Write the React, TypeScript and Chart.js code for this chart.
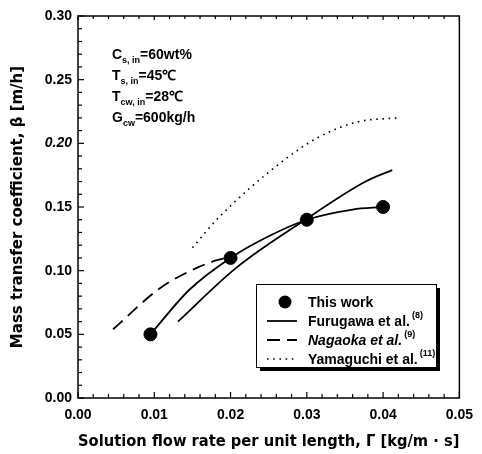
import React, { useEffect, useRef } from "react";
import { Chart, registerables } from "chart.js";

Chart.register(...registerables);

// ---- data ----
const thisWorkX = [0.0095, 0.02, 0.03, 0.04];
const thisWorkY = [0.05, 0.11, 0.14, 0.15];
const fitX = [0.0095, 0.0146, 0.02, 0.025, 0.03, 0.036, 0.04];
const fitY = [0.05, 0.085, 0.11, 0.127, 0.14, 0.148, 0.15];
const furugawaX = [0.0131, 0.0207, 0.0298, 0.0377, 0.0412];
const furugawaY = [0.06, 0.102, 0.14, 0.17, 0.179];
const nagaokaX = [0.0046, 0.0107, 0.0155, 0.0181, 0.0195];
const nagaokaY = [0.054, 0.086, 0.102, 0.108, 0.11];
const yamaguchiX = [0.015, 0.0185, 0.0264, 0.0316, 0.0368, 0.0418];
const yamaguchiY = [0.118, 0.142, 0.184, 0.205, 0.217, 0.22];

const legendLabels = ["This work", "Furugawa et al.", "Nagaoka et al.", "Yamaguchi et al."];
const legendRefs = ["", "(8)", "(9)", "(11)"];
const legendItalic = [false, false, true, false];

const xTitle = "Solution flow rate per unit length, Γ [kg/m · s]";
const yTitle = "Mass transfer coefficient, β [m/h]";

const xMin = 0, xMax = 0.05, xMajor = 0.01, xMinor = 0.002;
const yMin = 0, yMax = 0.3, yMajor = 0.05, yMinor = 0.01;

const FONT = "'Liberation Sans', Arial, sans-serif";
const TFONT = "'DejaVu Sans', 'Liberation Sans', sans-serif";

const zip = (xs: number[], ys: number[]) => xs.map((x, i) => ({ x, y: ys[i] }));

type Part = { t: string; sub?: boolean; sup?: boolean; it?: boolean };
function drawRich(ctx: CanvasRenderingContext2D, parts: Part[], x: number, y: number, size: number) {
  let cx = x;
  for (const p of parts) {
    const s = p.sub || p.sup ? Math.round(size * 0.62) : size;
    ctx.font = `${p.it ? "italic " : ""}bold ${s}px ${FONT}`;
    const dy = p.sub ? size * 0.3 : p.sup ? -size * 0.45 : 0;
    if (p.sup) cx += 2;
    ctx.fillText(p.t, cx, y + dy);
    cx += ctx.measureText(p.t).width;
  }
}

const framePlugin = {
  id: "frame",
  afterDraw(chart: any) {
    const { ctx, chartArea: a, scales } = chart;
    const xs = scales.x, ys = scales.y;
    ctx.save();
    ctx.strokeStyle = "#000";
    ctx.lineWidth = 1.5;
    ctx.strokeRect(a.left, a.top, a.right - a.left, a.bottom - a.top);
    ctx.lineWidth = 1.2;
    const nx = Math.round((xMax - xMin) / xMinor);
    for (let i = 0; i <= nx; i++) {
      const v = xMin + i * xMinor;
      const px = xs.getPixelForValue(v);
      const major = i % Math.round(xMajor / xMinor) === 0;
      const len = major ? 6 : 4;
      ctx.beginPath();
      ctx.moveTo(px, a.bottom);
      ctx.lineTo(px, a.bottom - len);
      ctx.moveTo(px, a.top);
      ctx.lineTo(px, a.top + (major ? 4 : 3));
      ctx.stroke();
    }
    const ny = Math.round((yMax - yMin) / yMinor);
    for (let i = 0; i <= ny; i++) {
      const v = yMin + i * yMinor;
      const py = ys.getPixelForValue(v);
      const major = i % Math.round(yMajor / yMinor) === 0;
      const len = major ? 6 : 4;
      ctx.beginPath();
      ctx.moveTo(a.left, py);
      ctx.lineTo(a.left + len, py);
      ctx.stroke();
    }

    // annotation text
    ctx.fillStyle = "#000";
    ctx.textBaseline = "alphabetic";
    ctx.textAlign = "left";
    const ax = 112, ay = 59, lh = 21;
    drawRich(ctx, [{ t: "C" }, { t: "s, in", sub: true }, { t: "=60wt%" }], ax, ay, 14);
    drawRich(ctx, [{ t: "T" }, { t: "s, in", sub: true }, { t: "=45℃" }], ax, ay + lh, 14);
    drawRich(ctx, [{ t: "T" }, { t: "cw, in", sub: true }, { t: "=28℃" }], ax, ay + 2 * lh, 14);
    drawRich(ctx, [{ t: "G" }, { t: "cw", sub: true }, { t: "=600kg/h" }], ax, ay + 3 * lh, 14);

    // legend box with shadow
    const lx = 256, ly = 284, lw = 180, lhh = 83;
    ctx.fillStyle = "#000";
    ctx.fillRect(lx + 4, ly + 4, lw, lhh);
    ctx.fillStyle = "#fff";
    ctx.fillRect(lx, ly, lw, lhh);
    ctx.strokeStyle = "#000";
    ctx.lineWidth = 1;
    ctx.strokeRect(lx + 0.5, ly + 0.5, lw, lhh);
    const rows = [302, 321, 340, 359];
    const ds = chart.data.datasets;
    const legendDs = [ds[0], ds[2], ds[3], ds[4]];
    rows.forEach((ry, i) => {
      const d = legendDs[i];
      ctx.save();
      if (i === 0) {
        ctx.fillStyle = "#000";
        ctx.beginPath();
        ctx.arc(285, ry, 6.5, 0, Math.PI * 2);
        ctx.fill();
      } else {
        ctx.strokeStyle = "#000";
        ctx.lineWidth = d.borderWidth;
        ctx.setLineDash(d.borderDash || []);
        ctx.beginPath();
        ctx.moveTo(267, ry);
        ctx.lineTo(297, ry);
        ctx.stroke();
      }
      ctx.restore();
      ctx.fillStyle = "#000";
      ctx.textBaseline = "middle";
      drawRich(ctx, [{ t: legendLabels[i], it: legendItalic[i] }, { t: legendRefs[i], sup: true }], 308, ry + 1, 14);
    });
    ctx.restore();
  },
};

export default function App() {
  const ref = useRef<HTMLCanvasElement>(null);
  useEffect(() => {
    if (!ref.current) return;
    const lineBase = { type: "line" as const, showLine: true, pointRadius: 0, borderColor: "#000", fill: false, cubicInterpolationMode: "monotone" as const };
    const tickFont = (c: any) => ({
      family: FONT,
      size: 14,
      weight: "bold" as const,
      style: (c.tick && Math.abs(c.tick.value - 0.2) < 1e-9 && c.scale && c.scale.id === "y" ? "italic" : "normal") as any,
    });
    const chart = new Chart(ref.current, {
      type: "scatter",
      data: {
        datasets: [
          { label: legendLabels[0], data: zip(thisWorkX, thisWorkY), pointRadius: 6.5, backgroundColor: "#000", borderColor: "#000", showLine: false, order: 0 } as any,
          { ...lineBase, label: "fit", data: zip(fitX, fitY), borderWidth: 1.8, order: 1 },
          { ...lineBase, label: legendLabels[1], data: zip(furugawaX, furugawaY), borderWidth: 1.8, order: 1 },
          { ...lineBase, label: legendLabels[2], data: zip(nagaokaX, nagaokaY), borderWidth: 1.8, borderDash: [13, 7], order: 1 },
          { ...lineBase, label: legendLabels[3], data: zip(yamaguchiX, yamaguchiY), borderWidth: 1.6, borderDash: [1.6, 4.6], order: 1 },
        ],
      },
      options: {
        animation: false,
        responsive: false,
        layout: { padding: { top: 16, right: 21, left: 0, bottom: 0 } },
        plugins: { legend: { display: false }, tooltip: { enabled: false } },
        scales: {
          x: {
            type: "linear",
            min: xMin,
            max: xMax,
            grid: { display: false, drawTicks: false },
            border: { display: false },
            ticks: { stepSize: xMajor, padding: 9, color: "#000", font: tickFont, callback: (v: any) => Number(v).toFixed(2) },
            title: { display: true, text: xTitle, color: "#000", font: { family: TFONT, size: 15, weight: "bold" }, padding: { top: 0, bottom: 3 } },
            afterFit: (s: any) => { s.height = 56; },
          },
          y: {
            type: "linear",
            min: yMin,
            max: yMax,
            grid: { display: false, drawTicks: false },
            border: { display: false },
            ticks: { stepSize: yMajor, padding: 6, color: "#000", font: tickFont, callback: (v: any) => Number(v).toFixed(2) },
            title: { display: true, text: yTitle, color: "#000", font: { family: TFONT, size: 15, weight: "bold" }, padding: { top: 9, bottom: 0 } },
            afterFit: (s: any) => { s.width = 78; },
          },
        },
      },
      plugins: [framePlugin],
    });
    return () => chart.destroy();
  }, []);
  return (
    <div style={{ position: "fixed", left: 0, top: 0, width: 482, height: 454, background: "#fff" }}>
      <canvas ref={ref} width={482} height={454} />
    </div>
  );
}
